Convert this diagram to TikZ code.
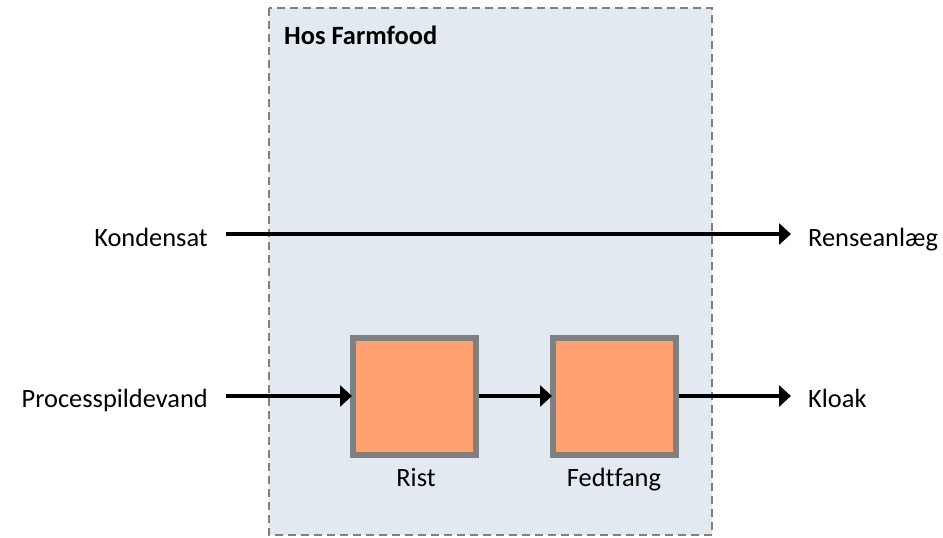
\documentclass[tikz,border=0pt]{standalone}
\usepackage{fontspec}
\setmainfont{Carlito}[Ligatures={NoCommon}]
\usetikzlibrary{arrows.meta}
\definecolor{zonefill}{RGB}{227,233,241}
\definecolor{boxfill}{RGB}{255,160,112}
\definecolor{boxline}{RGB}{128,128,128}
\tikzset{
  x=1pt,y=-1pt,
  lbl/.style={font=\fontsize{26.4}{30}\selectfont, inner sep=0pt},
  unit/.style={draw=boxline, line width=6pt, fill=boxfill, minimum width=123pt, minimum height=117pt, inner sep=0pt},
  flow/.style={line width=4.5pt, -{Triangle[length=12pt,width=21pt]}},
  zone/.style={draw=boxline, line width=2pt, dash pattern=on 8pt off 5pt, fill=zonefill}
}
\begin{document}
\begin{tikzpicture}
\useasboundingbox (0,0) rectangle (943,538);
\fill[white] (0,0) rectangle (943,538);
\draw[zone] (269,8) rectangle (712,535);
\node[lbl, font=\fontsize{26.4}{30}\selectfont\bfseries, anchor=base west] (title) at (284,44) {Hos Farmfood};
\node[unit] (rist) at (414.5,396) {};
\node[unit] (fedt) at (614.5,396) {};
\node[lbl, anchor=base] (ristlbl) at (416,486) {Rist};
\node[lbl, anchor=base] (fedtlbl) at (614,486) {Fedtfang};
\node[lbl, anchor=base east] (kond) at (208,246) {Kondensat};
\node[lbl, anchor=base west] (rens) at (808,246) {Renseanlæg};
\node[lbl, anchor=base east] (proc) at (208,407) {Processpildevand};
\node[lbl, anchor=base west] (kloak) at (808,407) {Kloak};
\coordinate (kondS) at (226,234);
\coordinate (kondE) at (791,234);
\coordinate (procS) at (226,396);
\coordinate (kloakE) at (791,396);
\draw[flow] (kondS) -- (kondE);
\draw[flow] (procS) -- ([xshift=2pt]rist.west);
\draw[flow] (rist.east) -- ([xshift=2pt]fedt.west);
\draw[flow] (fedt.east) -- (kloakE);
\end{tikzpicture}
\end{document}
